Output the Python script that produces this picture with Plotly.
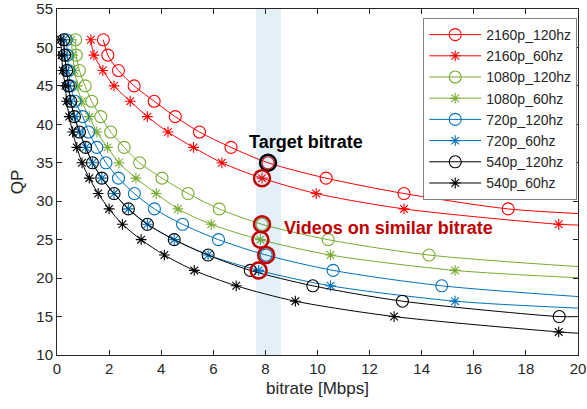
import plotly.graph_objects as go

# ---------------- data ----------------
qp_2160_120 = [51, 49, 47, 45, 43, 41, 39, 37, 35, 33, 31, 29]
br_2160_120 = [1.78, 1.95, 2.36, 2.96, 3.73, 4.54, 5.47, 6.68, 8.10, 10.33, 13.32, 17.32]
end_2160_120 = 28.4

qp_2160_60 = [51, 49, 47, 45, 43, 41, 39, 37, 35, 33, 31, 29, 27]
br_2160_60 = [1.30, 1.42, 1.76, 2.19, 2.81, 3.47, 4.26, 5.24, 6.33, 7.87, 9.95, 13.32, 19.26]
end_2160_60 = 26.9

qp_1080_120 = [51, 49, 47, 45, 43, 41, 39, 37, 35, 33, 31, 29, 27, 25, 23]
br_1080_120 = [0.72, 0.74, 0.86, 1.08, 1.33, 1.68, 2.06, 2.58, 3.17, 4.03, 5.03, 6.23, 7.87, 10.41, 14.28]
end_1080_120 = 21.5

qp_1080_60 = [51, 49, 47, 45, 43, 41, 39, 37, 35, 33, 31, 29, 27, 25, 23, 21]
br_1080_60 = [0.55, 0.60, 0.68, 0.78, 0.95, 1.24, 1.53, 1.94, 2.38, 3.03, 3.81, 4.64, 5.92, 7.81, 10.50, 15.28]
end_1080_60 = 20.05

qp_720_120 = [51, 49, 47, 45, 43, 41, 39, 37, 35, 33, 31, 29, 27, 25, 23, 21, 19]
br_720_120 = [0.36, 0.40, 0.45, 0.52, 0.69, 0.99, 1.21, 1.53, 1.88, 2.36, 2.97, 3.74, 4.82, 6.20, 8.03, 10.60, 14.77]
end_720_120 = 17.6

qp_720_60 = [51, 49, 47, 45, 43, 41, 39, 37, 35, 33, 31, 29, 27, 25, 23, 21, 19, 17]
br_720_60 = [0.26, 0.29, 0.37, 0.44, 0.53, 0.67, 0.86, 1.10, 1.36, 1.72, 2.19, 2.74, 3.47, 4.50, 5.80, 7.74, 10.50, 15.28]
end_720_60 = 16.1

qp_540_120 = [51, 49, 47, 45, 43, 41, 39, 37, 35, 33, 31, 29, 27, 25, 23, 21, 19, 17, 15]
br_540_120 = [0.26, 0.29, 0.37, 0.44, 0.53, 0.67, 0.86, 1.10, 1.36, 1.72, 2.19, 2.74, 3.47, 4.50, 5.80, 7.42, 9.82, 13.26, 19.28]
end_540_120 = 15.0

qp_540_60 = [51, 49, 47, 45, 43, 41, 39, 37, 35, 33, 31, 29, 27, 25, 23, 21, 19, 17, 15, 13]
br_540_60 = [0.14, 0.18, 0.22, 0.32, 0.37, 0.47, 0.60, 0.76, 0.96, 1.24, 1.58, 2.00, 2.51, 3.23, 4.12, 5.27, 6.88, 9.15, 12.94, 19.26]
end_540_60 = 12.83

x_max = 20

series = [
    ("2160p_120hz", br_2160_120, qp_2160_120, end_2160_120, "#FF0000", "circle-open"),
    ("2160p_60hz", br_2160_60, qp_2160_60, end_2160_60, "#FF0000", "asterisk-open"),
    ("1080p_120hz", br_1080_120, qp_1080_120, end_1080_120, "#77AC30", "circle-open"),
    ("1080p_60hz", br_1080_60, qp_1080_60, end_1080_60, "#77AC30", "asterisk-open"),
    ("720p_120hz", br_720_120, qp_720_120, end_720_120, "#0072BD", "circle-open"),
    ("720p_60hz", br_720_60, qp_720_60, end_720_60, "#0072BD", "asterisk-open"),
    ("540p_120hz", br_540_120, qp_540_120, end_540_120, "#000000", "circle-open"),
    ("540p_60hz", br_540_60, qp_540_60, end_540_60, "#000000", "asterisk-open"),
]

# highlighted points (bitrate, QP)
target_point = (br_2160_120[8], qp_2160_120[8])
similar_points = [
    (br_2160_60[9], qp_2160_60[9]),
    (br_1080_120[12], qp_1080_120[12]),
    (br_1080_60[13], qp_1080_60[13]),
    (br_720_120[14], qp_720_120[14]),
    (br_720_60[15], qp_720_60[15]),
]
band_x = (7.64, 8.6)

FONT = "Liberation Sans, Arial"

fig = go.Figure()

for name, br, qp, end, col, sym in series:
    msize = 12 if sym == "circle-open" else 9
    # fitted curve
    fig.add_trace(go.Scatter(
        x=br + [x_max], y=qp + [end], mode="lines",
        line=dict(color=col, width=1, shape="spline", smoothing=0.8),
        showlegend=False, hoverinfo="skip"))
    # markers
    fig.add_trace(go.Scatter(
        x=br, y=qp, mode="markers",
        marker=dict(symbol=sym, size=msize, color=col, line=dict(width=1.1, color=col)),
        showlegend=False))
    # legend entry
    fig.add_trace(go.Scatter(
        x=[None], y=[None], mode="lines+markers", name=name,
        line=dict(color=col, width=1),
        marker=dict(symbol=sym, size=msize, color=col, line=dict(width=1.1, color=col))))

shapes = [dict(type="rect", xref="x", yref="paper", x0=band_x[0], x1=band_x[1], y0=0, y1=1,
               fillcolor="rgba(0,114,189,0.11)", line=dict(width=0), layer="above")]
r = 8
shapes.append(dict(type="circle", xref="x", yref="y", xsizemode="pixel", ysizemode="pixel",
                   xanchor=target_point[0], yanchor=target_point[1], x0=-r, x1=r, y0=-r, y1=r,
                   line=dict(color="#000000", width=2.5), layer="above"))
for px, py in similar_points:
    shapes.append(dict(type="circle", xref="x", yref="y", xsizemode="pixel", ysizemode="pixel",
                       xanchor=px, yanchor=py, x0=-r, x1=r, y0=-r, y1=r,
                       line=dict(color="#C00000", width=2.5), layer="above"))

axis_common = dict(showline=True, linecolor="#262626", linewidth=1, mirror="ticks",
                   ticks="inside", ticklen=5, tickcolor="#262626", tickwidth=1,
                   showgrid=False, zeroline=False, automargin=False,
                   tickfont=dict(family=FONT, size=15, color="#262626"))

fig.update_layout(
    width=587, height=409,
    margin=dict(l=57, r=9, t=9, b=54),
    plot_bgcolor="white", paper_bgcolor="white",
    font=dict(family=FONT, color="#262626"),
    xaxis=dict(range=[0, 20], tickmode="array", tickvals=list(range(0, 21, 2)),
               title=dict(text="bitrate [Mbps]", font=dict(size=17), standoff=6), **axis_common),
    yaxis=dict(range=[10, 55], tickmode="array", tickvals=list(range(10, 56, 5)),
               title=dict(text="QP", font=dict(size=17), standoff=8), **axis_common),
    legend=dict(x=0.9985, y=0.974, xanchor="right", yanchor="top",
                bgcolor="white", bordercolor="#7f7f7f", borderwidth=1,
                font=dict(family=FONT, size=14, color="#262626"),
                tracegroupgap=0, itemwidth=52),
    shapes=shapes,
    annotations=[
        dict(x=9.57, y=37.7, xref="x", yref="y", text="<b>Target bitrate</b>", showarrow=False,
             font=dict(family=FONT, size=18, color="#000000")),
        dict(x=8.62, y=26.5, xref="x", yref="y", text="<b>Videos on similar bitrate</b>",
             showarrow=False, xanchor="left",
             font=dict(family=FONT, size=18, color="#C00000")),
    ],
)

fig.write_html("out.html")
